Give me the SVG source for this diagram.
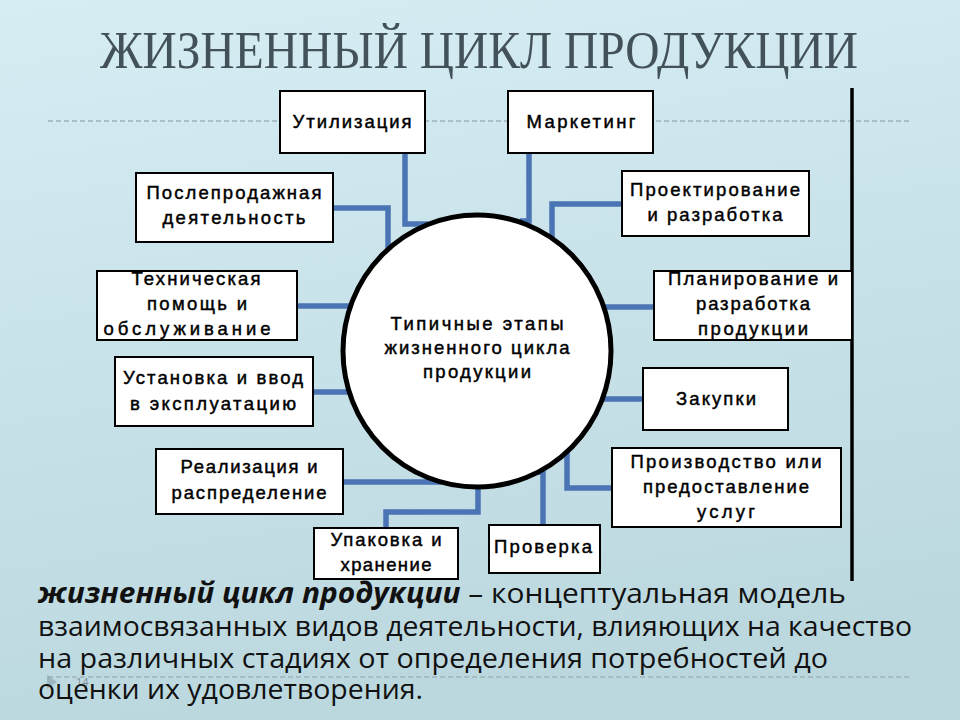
<svg xmlns="http://www.w3.org/2000/svg" width="960" height="720" viewBox="0 0 960 720">
<defs>
<linearGradient id="bg" x1="0" y1="0" x2="0.2" y2="1">
<stop offset="0" stop-color="#d6edf4"/>
<stop offset="1" stop-color="#bcd8df"/>
</linearGradient>
<style>
.box{fill:#fff;stroke:#000;stroke-width:2}
.t{font-family:"Liberation Sans",Arial,sans-serif;font-size:18.5px;fill:#000;text-anchor:middle;stroke:#000;stroke-width:0.45}
.c{fill:none;stroke:#4a74b4;stroke-width:5.5;stroke-linejoin:miter}
.dash{stroke:#9fb1b9;stroke-width:1.5;stroke-dasharray:5 3;fill:none}
.b{font-family:"Open Sans","Noto Sans",sans-serif;font-size:28px;fill:#111}
</style>
</defs>
<rect width="960" height="720" fill="url(#bg)"/>
<line class="dash" x1="48" y1="121" x2="912" y2="121"/>
<line class="dash" x1="48" y1="677" x2="912" y2="677"/>
<text x="479" y="68" font-family="Liberation Serif,'Times New Roman',serif" font-size="52" fill="#43515a" text-anchor="middle" textLength="758" lengthAdjust="spacingAndGlyphs">ЖИЗНЕННЫЙ ЦИКЛ ПРОДУКЦИИ</text>
<line x1="852" y1="88" x2="852" y2="581" stroke="#000" stroke-width="3.5"/>
<g id="connectors">
<path class="c" d="M405 153 V224 H428"/>
<path class="c" d="M529 153 V221 H520"/>
<path class="c" d="M333 208 H388 V249"/>
<path class="c" d="M622 204 H552 V239"/>
<path class="c" d="M297 306 H352"/>
<path class="c" d="M654 307 H603"/>
<path class="c" d="M313 392 H351"/>
<path class="c" d="M643 399 H603"/>
<path class="c" d="M343 482 H438 V478"/>
<path class="c" d="M386 528 V512 H478 V484"/>
<path class="c" d="M543 525 V472 H531"/>
<path class="c" d="M612 488 H567 V450"/>
</g>
<g id="center">
<ellipse cx="477" cy="351" rx="134" ry="136" fill="#fff" stroke="#000" stroke-width="5"/>
<text class="t" x="477" y="330" textLength="173">Типичные этапы</text>
<text class="t" x="477" y="354" textLength="185">жизненного цикла</text>
<text class="t" x="477" y="378" textLength="108">продукции</text>
</g>
<g id="n1"><rect class="box" x="280" y="91" width="145" height="62"/><text class="t" x="352" y="128" textLength="119">Утилизация</text></g>
<g id="n2"><rect class="box" x="508" y="91" width="145" height="62"/><text class="t" x="581" y="128" textLength="109">Маркетинг</text></g>
<g id="n3"><rect class="box" x="136" y="173" width="197" height="69"/><text class="t" x="234" y="199" textLength="175">Послепродажная</text><text class="t" x="234" y="224" textLength="143">деятельность</text></g>
<g id="n4"><rect class="box" x="622" y="171" width="187" height="65"/><text class="t" x="715" y="196" textLength="170">Проектирование</text><text class="t" x="715" y="221" textLength="135">и разработка</text></g>
<g id="n5"><rect class="box" x="97" y="271" width="200" height="69"/><text class="t" x="196" y="285" textLength="129">Техническая</text><text class="t" x="197" y="310" textLength="100">помощь и</text><text class="t" x="187" y="335" textLength="167">обслуживание</text></g>
<g id="n6"><rect class="box" x="654" y="271" width="198" height="69"/><text class="t" x="753" y="285" textLength="170">Планирование и</text><text class="t" x="753" y="310" textLength="114">разработка</text><text class="t" x="753" y="335" textLength="110">продукции</text></g>
<g id="n7"><rect class="box" x="115" y="357" width="198" height="69"/><text class="t" x="213" y="384" textLength="180">Установка и ввод</text><text class="t" x="213" y="410" textLength="166">в эксплуатацию</text></g>
<g id="n8"><rect class="box" x="643" y="368" width="145" height="62"/><text class="t" x="716" y="405" textLength="80">Закупки</text></g>
<g id="n9"><rect class="box" x="156" y="449" width="187" height="65"/><text class="t" x="249" y="473" textLength="137">Реализация и</text><text class="t" x="249" y="499" textLength="155">распределение</text></g>
<g id="n10"><rect class="box" x="612" y="448" width="229" height="79"/><text class="t" x="726" y="468" textLength="191">Производство или</text><text class="t" x="726" y="493" textLength="166">предоставление</text><text class="t" x="726" y="518" textLength="58">услуг</text></g>
<g id="n11"><rect class="box" x="314" y="528" width="144" height="51"/><text class="t" x="386" y="546" textLength="111">Упаковка и</text><text class="t" x="386" y="571" textLength="91">хранение</text></g>
<g id="n12"><rect class="box" x="489" y="525" width="111" height="48"/><text class="t" x="543" y="553" textLength="98">Проверка</text></g>
<path d="M47 675 L57 682 L47 689 Z" fill="#8fa6b0" opacity="0.7"/>
<text x="76" y="686" font-family="'Open Sans',sans-serif" font-size="11" fill="#7d8d95">14</text>
<text class="b" x="38" y="603" textLength="808" lengthAdjust="spacingAndGlyphs"><tspan font-weight="bold" font-style="italic">жизненный цикл продукции</tspan> – концептуальная модель</text>
<text class="b" x="38" y="636" textLength="874" lengthAdjust="spacingAndGlyphs">взаимосвязанных видов деятельности, влияющих на качество</text>
<text class="b" x="38" y="668" textLength="790" lengthAdjust="spacingAndGlyphs">на различных стадиях от определения потребностей до</text>
<text class="b" x="38" y="699" textLength="385" lengthAdjust="spacingAndGlyphs">оценки их удовлетворения.</text>
</svg>
